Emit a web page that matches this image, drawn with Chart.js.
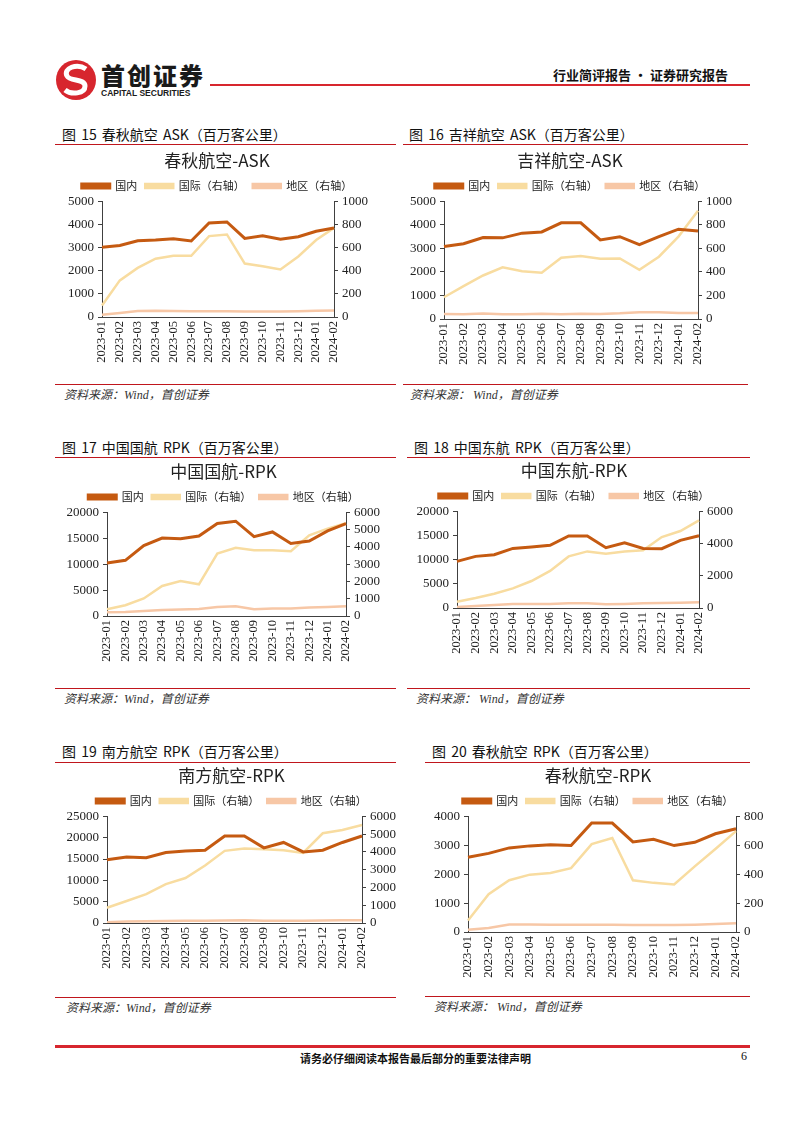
<!DOCTYPE html>
<html lang="zh-CN">
<head>
<meta charset="utf-8">
<title>航空公司 ASK / RPK</title>
<script src="https://cdn.jsdelivr.net/npm/chart.js@4.4.1/dist/chart.umd.min.js"></script>
<style>
  body { margin: 0; background: #fff; }
  #page { position: relative; width: 802px; height: 1133px; overflow: hidden; font-family: "Noto Sans CJK SC", sans-serif; color: #111; }
  .abs { position: absolute; white-space: nowrap; }
  .cap { font-size: 14px; font-weight: 400; word-spacing: 2px; }
  .rule { height: 1px; background: #c0161d; }
  .src { font-family: "Liberation Serif", "Noto Sans CJK SC", serif; font-style: italic; font-size: 12px; color: #333; }
</style>
</head>
<body>
<div id="page">
  <!-- header -->
  <svg class="abs" style="left:55px;top:58px" width="42" height="44" viewBox="0 0 42 44">
    <circle cx="21" cy="22" r="20" fill="#d7262e"/>
    <path d="M31 11 C22 5 8 10 12 18 C15 24 30 20 30 28 C30 36 16 37 10 32" fill="none" stroke="#fff" stroke-width="5"/>
  </svg>
  <div class="abs" style="left:101px;top:57px;font-size:24px;font-weight:900;letter-spacing:2px;color:#1a1a1a">首创证券</div>
  <div class="abs" style="left:101px;top:88px;font-size:8.5px;font-weight:700;font-family:'Liberation Sans',sans-serif;color:#1a1a1a">CAPITAL SECURITIES</div>
  <div class="abs" style="left:210px;top:84px;width:540px;height:2px;background:#d7262e"></div>
  <div class="abs" style="left:553px;top:65px;font-size:13px;font-weight:700">行业简评报告 · 证券研究报告</div>

  <!-- footer -->
  <div class="abs" style="left:55px;top:1045px;width:695px;height:3px;background:#d7262e"></div>
  <div class="abs" style="left:300px;top:1050px;width:200px;text-align:center;font-size:11px;font-weight:700">请务必仔细阅读本报告最后部分的重要法律声明</div>
  <div class="abs" style="left:741px;top:1049px;font-size:12px;font-family:'Liberation Serif',serif">6</div>
</div>

<script>
const months = ['2023-01','2023-02','2023-03','2023-04','2023-05','2023-06','2023-07',
                '2023-08','2023-09','2023-10','2023-11','2023-12','2024-01','2024-02'];
const seriesNames = ['国内', '国际（右轴）', '地区（右轴）'];

// 春秋航空 ASK
const cqAskDom  = [3020,3090,3300,3330,3385,3290,4065,4110,3400,3510,3360,3470,3710,3850];
const cqAskIntl = [99,317,425,504,530,530,700,714,462,439,411,524,666,771];
const cqAskReg  = [20,35,52,54,52,49,49,49,48,48,48,50,55,57];

// 吉祥航空 ASK
const jxAskDom  = [3080,3200,3460,3450,3650,3700,4090,4090,3360,3500,3160,3500,3820,3740];
const jxAskIntl = [185,279,370,439,407,393,521,535,513,515,419,530,701,920];
const jxAskReg  = [42,40,47,40,40,45,40,45,42,48,58,58,50,50];

// 中国国航 RPK
const caRpkDom  = [10230,10750,13600,15050,14920,15440,17850,18300,15310,16220,14000,14460,16420,17850];
const caRpkIntl = [390,625,1015,1740,2030,1835,3610,3945,3810,3810,3750,4670,5060,5370];
const caRpkReg  = [215,235,293,350,370,410,527,566,390,430,430,488,527,566];

// 中国东航 RPK
const ceRpkDom  = [9655,10690,11030,12340,12620,12970,14900,14900,12480,13520,12340,12280,14000,14970];
const ceRpkIntl = [393,620,890,1220,1675,2300,3205,3515,3370,3515,3580,4405,4780,5440];
const ceRpkReg  = [60,125,185,250,250,250,290,290,230,250,290,310,330,350];

// 南方航空 RPK
const csRpkDom  = [14840,15480,15320,16510,16900,17060,20400,20400,17620,18890,16670,17060,18890,20400];
const csRpkIntl = [857,1240,1620,2190,2530,3240,4060,4190,4150,4095,3940,5050,5240,5520];
const csRpkReg  = [40,90,100,110,120,130,140,150,130,130,130,140,150,160];

// 春秋航空 RPK
const cqRpkDom  = [2584,2720,2910,2980,3015,2990,3770,3770,3115,3205,2990,3105,3400,3570];
const cqRpkIntl = [79,261,358,397,408,442,608,651,358,340,329,454,574,698];
const cqRpkReg  = [16,28,52,52,50,50,50,50,49,49,49,51,55,60];

const colors = ['#c55a11', '#f8dca0', '#f7c7a6'];

const figures = [
  { cap: '图 15 春秋航空 ASK（百万客公里）', title: '春秋航空-ASK', src: '资料来源：Wind，首创证券',
    data: [cqAskDom, cqAskIntl, cqAskReg], yL: [5000, 1000], yR: [1000, 200],
    capX: 62, capY: 124, x1: 55, x2: 396, ruleTop: 144, ruleBot: 384, srcX: 64,
    axL: 102, axR: 334, wL: 42, wR: 40, top: 150, bottom: 317, xH: 50 },
  { cap: '图 16 吉祥航空 ASK（百万客公里）', title: '吉祥航空-ASK', src: '资料来源：  Wind，首创证券',
    data: [jxAskDom, jxAskIntl, jxAskReg], yL: [5000, 1000], yR: [1000, 200],
    capX: 409, capY: 124, x1: 403, x2: 748, ruleTop: 144, ruleBot: 384, srcX: 410,
    axL: 444, axR: 698, wL: 42, wR: 40, top: 150, bottom: 319, xH: 50 },
  { cap: '图 17 中国国航 RPK（百万客公里）', title: '中国国航-RPK', src: '资料来源：Wind，首创证券',
    data: [caRpkDom, caRpkIntl, caRpkReg], yL: [20000, 5000], yR: [6000, 1000],
    capX: 62, capY: 437, x1: 55, x2: 396, ruleTop: 457, ruleBot: 688, srcX: 64,
    axL: 107, axR: 346, wL: 46, wR: 40, top: 461, bottom: 616, xH: 48 },
  { cap: '图 18 中国东航 RPK（百万客公里）', title: '中国东航-RPK', src: '资料来源：  Wind，首创证券',
    data: [ceRpkDom, ceRpkIntl, ceRpkReg], yL: [20000, 5000], yR: [6000, 2000],
    capX: 414, capY: 437, x1: 407, x2: 750, ruleTop: 457, ruleBot: 688, srcX: 416,
    axL: 457, axR: 699, wL: 48, wR: 40, top: 460, bottom: 608, xH: 48 },
  { cap: '图 19 南方航空 RPK（百万客公里）', title: '南方航空-RPK', src: '资料来源：Wind，首创证券',
    data: [csRpkDom, csRpkIntl, csRpkReg], yL: [25000, 5000], yR: [6000, 1000],
    capX: 62, capY: 741, x1: 55, x2: 396, ruleTop: 762, ruleBot: 997, srcX: 66,
    axL: 107, axR: 362, wL: 46, wR: 40, top: 765, bottom: 923, xH: 48 },
  { cap: '图 20 春秋航空 RPK（百万客公里）', title: '春秋航空-RPK', src: '资料来源：  Wind，首创证券',
    data: [cqRpkDom, cqRpkIntl, cqRpkReg], yL: [4000, 1000], yR: [800, 200],
    capX: 432, capY: 741, x1: 425, x2: 750, ruleTop: 762, ruleBot: 996, srcX: 434,
    axL: 468, axR: 736, wL: 42, wR: 34, top: 765, bottom: 932, xH: 48 }
];

const page = document.getElementById('page');

function addDiv(cls, style, text) {
  const d = document.createElement('div');
  d.className = 'abs ' + cls;
  d.style.cssText = style;
  if (text) d.textContent = text;
  page.appendChild(d);
  return d;
}

const axisColor = '#404040';
const tickFont = { family: 'Liberation Serif', size: 13 };
const plainNum = v => String(v);

figures.forEach(f => {
  addDiv('cap', `left:${f.capX}px;top:${f.capY}px`, f.cap);
  addDiv('rule', `left:${f.x1}px;top:${f.ruleTop}px;width:${f.x2 - f.x1}px`);
  addDiv('rule', `left:${f.x1}px;top:${f.ruleBot}px;width:${f.x2 - f.x1}px`);
  addDiv('src', `left:${f.srcX}px;top:${f.ruleBot + 1}px`, f.src);

  const left = f.axL - f.wL;
  const width = f.axR + f.wR - left;
  const height = f.bottom + f.xH - f.top;
  const canvas = document.createElement('canvas');
  canvas.width = width;
  canvas.height = height;
  canvas.className = 'abs';
  canvas.style.cssText = `left:${left}px;top:${f.top}px;width:${width}px;height:${height}px`;
  page.appendChild(canvas);

  new Chart(canvas.getContext('2d'), {
    type: 'line',
    data: {
      labels: months,
      datasets: f.data.map((vals, i) => ({
        label: seriesNames[i],
        data: vals,
        yAxisID: i === 0 ? 'y' : 'y1',
        borderColor: colors[i],
        backgroundColor: colors[i],
        borderWidth: i === 0 ? 3 : 2.5,
        pointRadius: 0,
        tension: 0
      }))
    },
    options: {
      responsive: false,
      animation: false,
      devicePixelRatio: 1,
      layout: { padding: 0 },
      plugins: {
        title: {
          display: true,
          text: f.title,
          color: '#222',
          font: { family: 'Noto Sans CJK SC', size: 17, weight: 'normal' },
          padding: { top: 0, bottom: 2 }
        },
        legend: {
          display: true,
          labels: {
            boxWidth: 28,
            boxHeight: 4,
            color: '#222',
            padding: 8,
            font: { family: 'Noto Sans CJK SC', size: 11 }
          }
        },
        tooltip: { enabled: false }
      },
      scales: {
        x: {
          offset: false,
          grid: { drawOnChartArea: false, drawTicks: false },
          border: { color: axisColor, width: 1 },
          ticks: { color: '#222', font: { family: 'Liberation Serif', size: 12.5 }, minRotation: 90, maxRotation: 90, autoSkip: false, padding: 4 },
          afterFit: s => { s.height = f.xH; }
        },
        y: {
          position: 'left',
          min: 0, max: f.yL[0],
          grid: { drawOnChartArea: false, tickLength: 4, color: axisColor },
          border: { color: axisColor, width: 1 },
          ticks: { stepSize: f.yL[1], autoSkip: false, color: '#222', font: tickFont, padding: 4, callback: plainNum },
          afterFit: s => { s.width = f.wL; }
        },
        y1: {
          position: 'right',
          min: 0, max: f.yR[0],
          grid: { drawOnChartArea: false, tickLength: 4, color: axisColor },
          border: { color: axisColor, width: 1 },
          ticks: { stepSize: f.yR[1], autoSkip: false, color: '#222', font: tickFont, padding: 4, callback: plainNum },
          afterFit: s => { s.width = f.wR; }
        }
      }
    }
  });
});
</script>
</body>
</html>
